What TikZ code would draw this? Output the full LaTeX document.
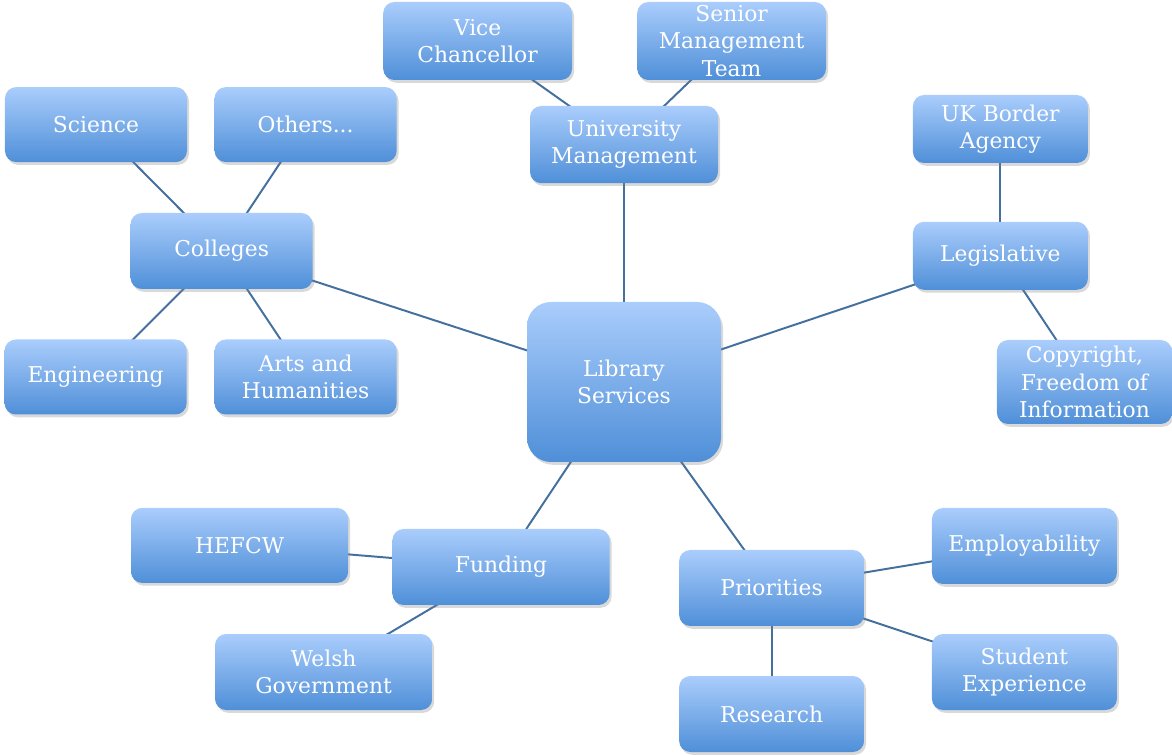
\documentclass[tikz,border=0pt]{standalone}
\usepackage{fontspec}
\setmainfont{DejaVu Serif}
\usetikzlibrary{shadows}

\definecolor{boxtop}{HTML}{AACDFC}
\definecolor{boxbot}{HTML}{4F8FD8}
\definecolor{linkcol}{HTML}{44709F}

\pgfdeclarelayer{background}
\pgfsetlayers{background,main}

\tikzset{
  topic/.style={rectangle, rounded corners=0.28cm, top color=boxtop, bottom color=boxbot,
    text=white, align=center, inner sep=0pt, font=\fontsize{15.5}{19.5}\selectfont,
    drop shadow={opacity=0.3, shadow xshift=0.05cm, shadow yshift=-0.07cm}},
  link/.style={linkcol, line width=1.4pt}
}

\begin{document}
\begin{tikzpicture}

\useasboundingbox (0,0) rectangle (29.3,18.875);

% centre
\draw (15.6,9.325) node (lib) [topic, rounded corners=0.6cm, minimum width=4.85cm, minimum height=4cm] {Library\\Services};

% management
\draw (15.6,15.26) node (mgmt) [topic, minimum width=4.7cm, minimum height=1.93cm] {University\\Management};
\draw (11.94,17.85) node (vc) [topic, minimum width=4.72cm, minimum height=1.95cm] {Vice\\Chancellor};
\draw (18.29,17.85) node (smt) [topic, minimum width=4.72cm, minimum height=1.95cm] {Senior\\Management\\Team};

% colleges
\draw (5.54,12.6) node (coll) [topic, minimum width=4.55cm, minimum height=1.9cm] {Colleges};
\draw (2.4,15.76) node (sci) [topic, minimum width=4.55cm, minimum height=1.875cm] {Science};
\draw (7.64,15.76) node (oth) [topic, minimum width=4.55cm, minimum height=1.875cm] {Others...};
\draw (2.39,9.45) node (eng) [topic, minimum width=4.55cm, minimum height=1.875cm] {Engineering};
\draw (7.64,9.45) node (arts) [topic, minimum width=4.55cm, minimum height=1.875cm] {Arts and\\Humanities};

% legislative
\draw (25.01,12.48) node (leg) [topic, minimum width=4.375cm, minimum height=1.7cm] {Legislative};
\draw (25.01,15.65) node (ukba) [topic, minimum width=4.375cm, minimum height=1.7cm] {UK Border\\Agency};
\draw (27.11,9.325) node (copy) [topic, minimum width=4.375cm, minimum height=2.1cm] {Copyright,\\Freedom of\\Information};

% funding
\draw (12.525,4.7) node (fund) [topic, minimum width=5.43cm, minimum height=1.9cm] {Funding};
\draw (5.99,5.24) node (hefcw) [topic, minimum width=5.43cm, minimum height=1.875cm] {HEFCW};
\draw (8.09,2.075) node (welsh) [topic, minimum width=5.43cm, minimum height=1.9cm] {Welsh\\Government};

% priorities
\draw (19.29,4.175) node (prio) [topic, minimum width=4.625cm, minimum height=1.9cm] {Priorities};
\draw (25.61,5.225) node (empl) [topic, minimum width=4.625cm, minimum height=1.9cm] {Employability};
\draw (25.61,2.075) node (stud) [topic, minimum width=4.625cm, minimum height=1.9cm] {Student\\Experience};
\draw (19.29,1.025) node (res) [topic, minimum width=4.625cm, minimum height=1.9cm] {Research};

\begin{pgfonlayer}{background}
\draw [link] (lib.center) -- (mgmt.center);
\draw [link] (mgmt.center) -- (vc.center);
\draw [link] (mgmt.center) -- (smt.center);
\draw [link] (lib.center) -- (coll.center);
\draw [link] (coll.center) -- (sci.center);
\draw [link] (coll.center) -- (oth.center);
\draw [link] (coll.center) -- (eng.center);
\draw [link] (coll.center) -- (arts.center);
\draw [link] (lib.center) -- (leg.center);
\draw [link] (leg.center) -- (ukba.center);
\draw [link] (leg.center) -- (copy.center);
\draw [link] (lib.center) -- (fund.center);
\draw [link] (fund.center) -- (hefcw.center);
\draw [link] (fund.center) -- (welsh.center);
\draw [link] (lib.center) -- (prio.center);
\draw [link] (prio.center) -- (empl.center);
\draw [link] (prio.center) -- (stud.center);
\draw [link] (prio.center) -- (res.center);
\end{pgfonlayer}

\end{tikzpicture}
\end{document}
